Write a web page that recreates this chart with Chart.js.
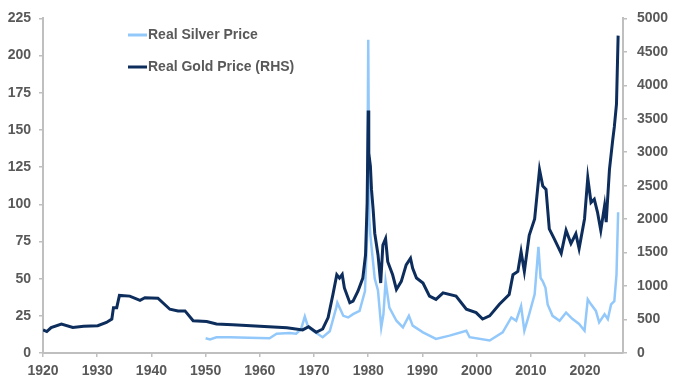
<!DOCTYPE html>
<html>
<head>
<meta charset="utf-8">
<script src="https://cdn.jsdelivr.net/npm/chart.js@4/dist/chart.umd.min.js"></script>
<style>
  body { margin: 0; background: #fff; }
  #wrap { width: 677px; height: 386px; }
</style>
</head>
<body>
<div id="wrap"><canvas id="chart" width="677" height="386"></canvas></div>
<script>
// real gold price (right axis)
const goldYears = [1920.0, 1920.7, 1921.5, 1923.4, 1925.5, 1927.5, 1930.1, 1931.7, 1932.7, 1933.0, 1933.6, 1934.1,
  1936.0, 1937.9, 1938.8, 1941.2, 1943.4, 1944.9, 1946.2, 1947.7, 1950.2, 1952.0, 1955.0, 1960.0, 1965.0, 1967.9,
  1969.0, 1970.4, 1971.6, 1972.6, 1973.5, 1974.2, 1974.7, 1975.2, 1975.6, 1976.6, 1977.2, 1978.1, 1979.0, 1979.5,
  1979.8, 1980.0, 1980.1, 1980.4, 1980.6, 1980.9, 1981.2, 1981.8, 1982.3, 1982.7, 1983.2, 1983.6, 1984.5, 1985.2,
  1986.1, 1987.0, 1987.8, 1988.2, 1988.9, 1990.1, 1991.3, 1992.5, 1993.8, 1996.2, 1998.1, 1999.9, 2001.1, 2002.4,
  2004.2, 2006.0, 2006.7, 2007.6, 2008.2, 2008.8, 2009.7, 2010.7, 2011.6, 2012.2, 2012.8, 2013.4, 2014.3,
  2015.6, 2016.5, 2017.4, 2018.3, 2018.9, 2019.9, 2020.5, 2021.1, 2021.7, 2022.3, 2022.9, 2023.6, 2023.9, 2024.5,
  2025.1, 2025.4, 2025.8, 2026.1];
const goldValues = [345, 320, 380, 433, 383, 400, 408, 457, 507, 678, 678, 860,
  850, 787, 825, 820, 654, 629, 629, 482, 471, 433, 423, 400, 378, 345,
  393, 309, 359, 530, 879, 1169, 1119, 1174, 972, 751, 776, 923, 1119, 1464,
  2249, 3623, 2986, 2794, 2445, 2150, 1790, 1469, 1046, 1611, 1709, 1365, 1169, 949,
  1071, 1317, 1414, 1267, 1120, 1046, 850, 801, 898, 850, 654, 604, 507, 555,
  728, 875, 1169, 1218, 1513, 1218, 1759, 2003, 2740, 2495, 2445, 1856, 1709,
  1488, 1832, 1635, 1782, 1561, 2003, 2618, 2249, 2298, 2102, 1832, 2200, 1955, 2740,
  3182, 3379, 3722, 4743];

// real silver price (left axis)
const silverYears = [1950.0, 1950.8, 1952.0, 1954.5, 1958.0, 1961.8, 1963.1, 1965.5, 1966.7, 1967.6, 1968.3, 1968.9,
  1969.8, 1971.6, 1972.9, 1974.1, 1974.3, 1975.4, 1976.3, 1977.2, 1978.4, 1979.4, 1979.8, 1980.0, 1980.2, 1980.4,
  1980.7, 1981.2, 1981.8, 1982.4, 1982.8, 1983.2, 1983.9, 1985.2, 1986.4, 1987.5, 1988.2, 1990.1, 1992.5, 1995.0,
  1998.1, 1998.7, 2002.4, 2004.8, 2006.4, 2007.3, 2008.2, 2008.8, 2009.7, 2010.7,
  2011.4, 2011.8, 2012.2, 2012.7, 2013.1, 2014.0, 2015.3, 2016.5, 2017.7, 2018.9, 2019.9, 2020.5, 2021.1, 2022.0,
  2022.6, 2023.6, 2024.2, 2024.8, 2025.4, 2025.8, 2026.1];
const silverValues = [9.9, 9.1, 10.6, 10.6, 10.3, 9.9, 12.9, 13.5, 13.0, 16, 24.5, 17.5,
  15, 10.6, 14.6, 30.5, 33.8, 25, 23.9, 26.1, 28.3, 41.6, 79, 210.6, 90, 79,
  68, 50, 42, 17.2, 26, 48.2, 30.5, 21.7, 17.2, 25, 18.4, 13.9, 9.5, 11.7,
  15, 10.6, 8.4, 13.9, 23.9, 21.7, 31.6, 15, 26.1, 39.4,
  71.4, 50.4, 48.2, 43.8, 32.7, 25, 21.7, 27.2, 22.8, 19.5, 15, 36.1, 32.7, 28.3,
  20.6, 26.1, 22.8, 32.7, 34.9, 52.6, 94.6];

const seriesNames = ["Real Silver Price", "Real Gold Price (RHS)"];

const silverColor = "#93c8fb";
const goldColor = "#0d2d5c";
const textColor = "#595959";
const axisColor = "#bfbfbf";
const labelFont = { family: "'Liberation Sans', Arial, sans-serif", size: 14, weight: "bold" };

function toPoints(xs, ys) {
  return xs.map((x, i) => ({ x: x, y: ys[i] }));
}

// legend drawn inside the plot, top left, like the original
const innerLegend = {
  id: "innerLegend",
  afterDraw(chart) {
    const ctx = chart.ctx;
    const items = [
      { text: seriesNames[0], color: silverColor, y: 35 },
      { text: seriesNames[1], color: goldColor, y: 67 }
    ];
    ctx.save();
    ctx.font = "bold 14px 'Liberation Sans', Arial, sans-serif";
    ctx.textBaseline = "middle";
    ctx.fillStyle = textColor;
    items.forEach(item => {
      ctx.strokeStyle = item.color;
      ctx.lineWidth = 3;
      ctx.beginPath();
      ctx.moveTo(128, item.y);
      ctx.lineTo(147, item.y);
      ctx.stroke();
      ctx.fillText(item.text, 148, item.y);
    });
    ctx.restore();
  }
};

function axisCommon(extra) {
  return Object.assign({
    grid: { drawOnChartArea: false, drawTicks: true, tickLength: 4, color: axisColor, lineWidth: 1.5 },
    border: { display: true, color: axisColor, width: 2 }
  }, extra);
}

new Chart(document.getElementById("chart"), {
  type: "line",
  data: {
    datasets: [
      {
        label: seriesNames[1],
        data: toPoints(goldYears, goldValues),
        yAxisID: "y2",
        borderColor: goldColor,
        borderWidth: 3,
        pointRadius: 0,
        tension: 0
      },
      {
        label: seriesNames[0],
        data: toPoints(silverYears, silverValues),
        yAxisID: "y",
        borderColor: silverColor,
        borderWidth: 2.5,
        pointRadius: 0,
        tension: 0
      }
    ]
  },
  options: {
    responsive: false,
    animation: false,
    devicePixelRatio: 1,
    layout: { padding: { top: 13, left: 0, right: 0, bottom: 0 } },
    plugins: {
      legend: { display: false },
      tooltip: { enabled: false }
    },
    scales: {
      x: axisCommon({
        type: "linear",
        min: 1920,
        max: 2027,
        ticks: { stepSize: 10, includeBounds: false, padding: 6, color: textColor, font: labelFont, maxRotation: 0,
          callback: v => String(v) },
        afterFit: s => { s.height = 33; }
      }),
      y: axisCommon({
        position: "left",
        min: 0,
        max: 225,
        ticks: { stepSize: 25, padding: 8, color: textColor, font: labelFont },
        afterFit: s => { s.width = 43; }
      }),
      y2: axisCommon({
        position: "right",
        min: 0,
        max: 5000,
        ticks: { stepSize: 500, padding: 10, color: textColor, font: labelFont, callback: v => String(v) },
        afterFit: s => { s.width = 54; }
      })
    }
  },
  plugins: [innerLegend]
});
</script>
</body>
</html>
